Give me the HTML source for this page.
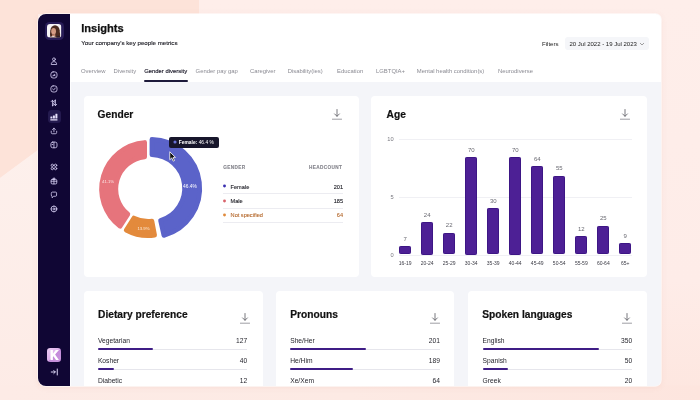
<!DOCTYPE html>
<html>
<head>
<meta charset="utf-8">
<title>Insights</title>
<style>
*{margin:0;padding:0;box-sizing:border-box;}
html,body{width:700px;height:400px;overflow:hidden;}
body{font-family:"Liberation Sans",sans-serif;background:#fce6df;position:relative;color:#15131f;}
.abs{position:absolute;}
#bg{position:absolute;left:0;top:0;width:700px;height:400px;}
#win{position:absolute;left:38.0px;top:13.6px;width:622.8px;height:372.0px;border-radius:8px 5.5px 6px 8px;background:#f4f5f9;overflow:hidden;box-shadow:0 0 0 0.7px rgba(255,255,255,0.75),0 1px 6px rgba(190,110,90,0.10);}
.t{position:absolute;white-space:nowrap;line-height:1;}
.h2{position:absolute;font-weight:bold;-webkit-text-stroke:0.2px #111;font-size:10.2px;line-height:1;white-space:nowrap;color:#111;}
</style>
</head>
<body>
<svg id="bg" viewBox="0 0 700 400">
  <defs>
    <linearGradient id="g1" x1="0" y1="0" x2="0" y2="1">
      <stop offset="0" stop-color="#feeeea"/><stop offset="0.7" stop-color="#feece8"/><stop offset="1" stop-color="#fde6df"/>
    </linearGradient>
    <linearGradient id="g2" x1="0" y1="0" x2="0" y2="1">
      <stop offset="0" stop-color="#fdf0ec"/><stop offset="1" stop-color="#fdebe6"/>
    </linearGradient>
    <linearGradient id="g3" x1="0" y1="0" x2="1" y2="0">
      <stop offset="0" stop-color="#fdebe6"/><stop offset="0.5" stop-color="#fdeae4"/><stop offset="1" stop-color="#fde5de"/>
    </linearGradient>
  </defs>
  <rect width="700" height="400" fill="url(#g1)"/>
  <polygon points="0,0 199,0 199,14 38,14 38,150 0,178" fill="#fde3d9"/>
  <polygon points="0,178 38,150 38,400 0,400" fill="url(#g2)"/>
  <rect x="0" y="385.5" width="700" height="14.5" fill="url(#g3)"/>
</svg>
<div id="win">
<div id="pg" class="abs" style="left:-38.0px;top:-13.6px;width:700px;height:400px;will-change:transform;">
  <div class="abs" style="left:38.00px;top:13.60px;width:32.00px;height:372.00px;background:#100634;"></div>
  <div class="abs" style="left:70.00px;top:13.60px;width:591.00px;height:68.20px;background:#fff;"></div>
  <div class="abs" style="left:70.00px;top:81.80px;width:1.40px;height:305.00px;background:#fdfdfe;"></div>
  <div class="abs" style="left:44.80px;top:22.00px;width:19.20px;height:18.40px;background:#281c57;border-radius:4.5px;"></div>
  <svg class="abs" style="left:47.2px;top:24.4px;" width="14.4" height="13.6" viewBox="0 0 144 136">
<defs><clipPath id="avc"><rect width="144" height="136" rx="32"/></clipPath></defs>
<g clip-path="url(#avc)">
<rect width="144" height="136" fill="#f7f4f6"/>
<ellipse cx="80" cy="64" rx="46" ry="52" fill="#4a2a20"/>
<path d="M36 62 Q22 118 40 140 L132 140 Q134 96 122 56 Z" fill="#4a2a20"/>
<ellipse cx="66" cy="72" rx="24" ry="32" fill="#d39a82"/>
<ellipse cx="60" cy="84" rx="9" ry="6" fill="#dc9f8c"/>
<path d="M52 100 Q66 112 82 98 L84 122 L50 122 Z" fill="#c98c74"/>
<path d="M28 136 Q60 104 98 136 Z" fill="#f1e7e4"/>
<path d="M94 136 Q112 92 134 136 Z" fill="#2a1b2e"/>
</g></svg>
  <div class="abs" style="left:47.50px;top:109.90px;width:13.30px;height:13.50px;background:#241a4f;border-radius:3.5px;"></div>
  <svg class="abs" style="left:50.05px;top:57.05px;" width="7.9" height="7.9" viewBox="0 0 18 18" fill="none" stroke="#d4ccf1" stroke-width="1.9" stroke-linecap="round" stroke-linejoin="round"><circle cx="9" cy="5.2" r="3.2"/><path d="M2.8 16.2 C2.8 12.2 5.5 10.6 9 10.6 C12.5 10.6 15.2 12.2 15.2 16.2 Z"/></svg>
  <svg class="abs" style="left:50.05px;top:71.15px;" width="7.9" height="7.9" viewBox="0 0 18 18" fill="none" stroke="#d4ccf1" stroke-width="1.9" stroke-linecap="round" stroke-linejoin="round"><rect x="2" y="2" width="14" height="14" rx="5"/><path d="M5.5 11.5 A4 4 0 0 1 12.5 11.5"/><path d="M9 11 L11 7.5"/></svg>
  <svg class="abs" style="left:50.05px;top:84.95px;" width="7.9" height="7.9" viewBox="0 0 18 18" fill="none" stroke="#d4ccf1" stroke-width="1.9" stroke-linecap="round" stroke-linejoin="round"><rect x="2" y="2" width="14" height="14" rx="5"/><path d="M6 9.2 L8.3 11.4 L12.2 6.8"/></svg>
  <svg class="abs" style="left:50.05px;top:98.95px;" width="7.9" height="7.9" viewBox="0 0 18 18" fill="none" stroke="#d4ccf1" stroke-width="1.9" stroke-linecap="round" stroke-linejoin="round"><path d="M5.6 15.5 V3 M2.6 6 L5.6 2.8 L8.2 6"/><path d="M5.6 15.5 Q8.4 15.5 8.4 12.8 V10"/><path d="M12.4 2.5 V15 M9.8 12 L12.4 15.2 L15.4 12"/><path d="M12.4 2.5 Q9.6 2.5 9.6 5.2 V8"/></svg>
  <svg class="abs" style="left:50.4px;top:112.6px;" width="8" height="8" viewBox="0 0 80 80"><rect x="4" y="36" width="20" height="20" rx="3" fill="#e6e0fa"/><rect x="29" y="24" width="20" height="32" rx="3" fill="#e6e0fa"/><rect x="54" y="8" width="20" height="48" rx="3" fill="#e6e0fa"/><rect x="2" y="63" width="74" height="11" rx="4" fill="#e6e0fa"/></svg>
  <svg class="abs" style="left:50.05px;top:126.95px;" width="7.9" height="7.9" viewBox="0 0 18 18" fill="none" stroke="#d4ccf1" stroke-width="1.9" stroke-linecap="round" stroke-linejoin="round"><path d="M9 11 V2.8 M5.8 5.8 L9 2.6 L12.2 5.8"/><path d="M2.8 9.5 V12.5 Q2.8 15.4 5.8 15.4 H12.2 Q15.2 15.4 15.2 12.5 V9.5"/></svg>
  <svg class="abs" style="left:50.05px;top:141.05px;" width="7.9" height="7.9" viewBox="0 0 18 18" fill="none" stroke="#d4ccf1" stroke-width="1.9" stroke-linecap="round" stroke-linejoin="round"><rect x="2" y="2.5" width="14" height="13" rx="4"/><path d="M9 2.5 V15.5"/><path d="M4.8 8 H6.5"/></svg>
  <svg class="abs" style="left:50.05px;top:163.35px;" width="7.9" height="7.9" viewBox="0 0 18 18" fill="none" stroke="#d4ccf1" stroke-width="1.9" stroke-linecap="round" stroke-linejoin="round"><circle cx="5.3" cy="5.3" r="2.7"/><circle cx="12.7" cy="5.3" r="2.7"/><circle cx="5.3" cy="12.7" r="2.7"/><circle cx="12.7" cy="12.7" r="2.7"/></svg>
  <svg class="abs" style="left:50.05px;top:177.45px;" width="7.9" height="7.9" viewBox="0 0 18 18" fill="none" stroke="#d4ccf1" stroke-width="1.9" stroke-linecap="round" stroke-linejoin="round"><rect x="2.6" y="5.6" width="12.8" height="10.2" rx="2.2"/><path d="M2.6 9.6 H15.4 M9 5.6 V15.8"/><path d="M9 5.4 C7 5.4 5.6 2.4 7.4 2.4 C8.6 2.4 9 4 9 5.4 C9 4 9.4 2.4 10.6 2.4 C12.4 2.4 11 5.4 9 5.4"/></svg>
  <svg class="abs" style="left:50.05px;top:191.15px;" width="7.9" height="7.9" viewBox="0 0 18 18" fill="none" stroke="#d4ccf1" stroke-width="1.9" stroke-linecap="round" stroke-linejoin="round"><path d="M3 4.8 Q3 2.5 5.3 2.5 H12.7 Q15 2.5 15 4.8 V9.7 Q15 12 12.7 12 H8.4 L4.8 15.5 V12 Q3 12 3 9.7 Z"/></svg>
  <svg class="abs" style="left:50.05px;top:205.15px;" width="7.9" height="7.9" viewBox="0 0 18 18" fill="none" stroke="#d4ccf1" stroke-width="1.9" stroke-linecap="round" stroke-linejoin="round"><circle cx="9" cy="9" r="6.6"/><circle cx="9" cy="9" r="2.3"/><path d="M9 2.4 V3.6 M9 14.4 V15.6 M2.4 9 H3.6 M14.4 9 H15.6"/></svg>
  <div class="abs" style="left:47.4px;top:348px;width:13.6px;height:13.6px;border-radius:3.2px;background:linear-gradient(135deg,#eccdf3 0%,#dcaeea 52%,#c48cda 53%,#c995de 100%);"></div>
<svg class="abs" style="left:47.4px;top:348px" width="13.6" height="13.6" viewBox="0 0 136 136"><path d="M35 20 H59 V58 L88 20 H117 L81 64 L119 121 H90 L65 82 L59 89 V121 H35 Z" fill="#fff"/></svg>
<svg class="abs" style="left:50px;top:368.4px;" width="9" height="8" viewBox="0 0 18 16" fill="none" stroke="#dcd5f5" stroke-width="2" stroke-linecap="round" stroke-linejoin="round"><path d="M2.5 8 H10.5 M7.6 5 L10.6 8 L7.6 11"/><path d="M14.5 2 V14"/></svg>
  <div class="t" id="title" style="left:81.20px;top:23px;font-size:11.1px;color:#111;font-weight:bold;-webkit-text-stroke:0.25px #111;">Insights</div>
  <div class="t" id="sub" style="left:81.30px;top:40px;font-size:6.15px;color:#17171f;-webkit-text-stroke:0.12px #17171f;">Your company's key people metrics</div>
  <div class="t" style="left:81.00px;top:69px;font-size:5.9px;color:#8a8a92;">Overview</div>
  <div class="t" style="left:113.60px;top:69px;font-size:5.9px;color:#8a8a92;">Diversity</div>
  <div class="t" style="left:144.20px;top:69px;font-size:5.9px;color:#1d1b2b;-webkit-text-stroke:0.15px #1d1b2b;">Gender diversity</div>
  <div class="t" style="left:195.60px;top:69px;font-size:5.9px;color:#8a8a92;">Gender pay gap</div>
  <div class="t" style="left:250.00px;top:69px;font-size:5.9px;color:#8a8a92;">Caregiver</div>
  <div class="t" style="left:287.70px;top:69px;font-size:5.9px;color:#8a8a92;">Disability(ies)</div>
  <div class="t" style="left:337.00px;top:69px;font-size:5.9px;color:#8a8a92;">Education</div>
  <div class="t" style="left:376.00px;top:69px;font-size:5.9px;color:#8a8a92;">LGBTQIA+</div>
  <div class="t" style="left:416.80px;top:69px;font-size:5.9px;color:#8a8a92;">Mental health condition(s)</div>
  <div class="t" style="left:498.00px;top:69px;font-size:5.9px;color:#8a8a92;">Neurodiverse</div>
  <div class="abs" style="left:144.20px;top:80.20px;width:43.50px;height:1.50px;background:#1d1a3a;border-radius:1px;"></div>
  <div class="t" style="left:542.00px;top:41px;font-size:6.1px;color:#222;">Filters</div>
  <div class="abs" style="left:565.00px;top:36.90px;width:84.20px;height:13.60px;background:#f5f6f9;border-radius:3px;"></div>
  <div class="t" id="date" style="left:569.50px;top:41px;font-size:6.0px;color:#222;">20 Jul 2022 - 19 Jul 2023</div>
  <svg class="abs" style="left:639.4px;top:41.6px;" width="6" height="4" viewBox="0 0 6 4"><path d="M1 1 L3 3 L5 1" fill="none" stroke="#777" stroke-width="0.7"/></svg>
  <div class="abs" style="left:83.50px;top:95.50px;width:275.00px;height:181.00px;background:#fff;border-radius:4px;"></div>
  <div class="h2" style="left:97.6px;top:110.0px;">Gender</div>
  <svg class="abs" style="left:331.50px;top:108.80px;" width="10" height="11" viewBox="0 0 10 11" fill="none" stroke="#55555d" stroke-width="0.8" stroke-linecap="round" stroke-linejoin="round"><path d="M5 0.5 V7.2 M2.6 4.9 L5 7.3 L7.4 4.9"/><path d="M0.4 10.2 H9.6" stroke="#85858d"/></svg>
  <svg class="abs" id="donut" style="left:0;top:0;" width="700" height="400" viewBox="0 0 700 400"><path d="M120.15 226.33 A46.70 46.70 0 0 1 144.70 142.43 L144.70 156.89 A32.30 32.30 0 0 0 127.92 214.14 Z" fill="#e6747c" stroke="#e6747c" stroke-width="4.6" stroke-linejoin="round"/><path d="M154.68 235.25 A46.70 46.70 0 0 1 126.13 230.16 L133.90 217.96 A32.30 32.30 0 0 0 151.98 221.08 Z" fill="#e38a3c" stroke="#e38a3c" stroke-width="4.6" stroke-linejoin="round"/><path d="M151.90 139.41 A48.90 48.90 0 0 1 163.88 235.45 L160.51 220.50 A33.60 33.60 0 0 0 151.90 154.71 Z" fill="#5b63c9" stroke="#5b63c9" stroke-width="4.6" stroke-linejoin="round"/></svg>
  <div class="t" style="left:183.00px;top:185px;font-size:4.9px;color:#fff;">46.4%</div>
  <div class="t" style="left:102.00px;top:180px;font-size:4.3px;color:#fbe4e4;">41.1%</div>
  <div class="t" style="left:137.40px;top:227px;font-size:4.3px;color:#fdebd8;">13.9%</div>
  <div class="abs" style="left:169.30px;top:136.90px;width:50.00px;height:10.90px;background:#17162b;border-radius:2px;"></div>
  <svg class="abs" style="left:171.9px;top:139.2px;" width="6" height="6" viewBox="0 0 6 6"><circle cx="3" cy="3" r="1.55" fill="#6a72d6"/></svg>
  <div class="t" id="tip" style="left:178.80px;top:141px;font-size:4.9px;color:#fff;"><b>Female:</b> 46.4 %</div>
  <svg class="abs" style="left:168.6px;top:151px;" width="7" height="11" viewBox="0 0 14 22"><path d="M1.5 1.5 V17.5 L5.5 13.8 L8.4 20.3 L11 19.2 L8.2 12.8 H13 Z" fill="#111" stroke="#fff" stroke-width="1.6" stroke-linejoin="round"/></svg>
  <div class="t" style="left:223.30px;top:166px;font-size:4.7px;color:#85858d;font-weight:bold;letter-spacing:0.35px;-webkit-text-stroke:0.12px #85858d;">GENDER</div>
  <div class="t" id="hc" style="left:309.00px;top:166px;font-size:4.7px;color:#85858d;font-weight:bold;letter-spacing:0.35px;-webkit-text-stroke:0.12px #85858d;">HEADCOUNT</div>
  <svg class="abs" style="left:221px;top:183.30px;" width="6" height="6" viewBox="0 0 6 6"><circle cx="3.5" cy="3" r="1.45" fill="#3a2fb0"/></svg>
  <div class="t" style="left:230.60px;top:185px;font-size:5.6px;color:#1a1a22;-webkit-text-stroke:0.1px #1a1a22;">Female</div>
  <div class="t" style="right:357.00px;top:185px;font-size:5.6px;color:#1a1a22;-webkit-text-stroke:0.1px #1a1a22;">201</div>
  <div class="abs" style="left:223.00px;top:193.30px;width:120.00px;height:0.80px;background:#ececf1;"></div>
  <svg class="abs" style="left:221px;top:197.90px;" width="6" height="6" viewBox="0 0 6 6"><circle cx="3.5" cy="3" r="1.45" fill="#d9646c"/></svg>
  <div class="t" style="left:230.60px;top:199px;font-size:5.6px;color:#1a1a22;-webkit-text-stroke:0.1px #1a1a22;">Male</div>
  <div class="t" style="right:357.00px;top:199px;font-size:5.6px;color:#1a1a22;-webkit-text-stroke:0.1px #1a1a22;">185</div>
  <div class="abs" style="left:223.00px;top:207.90px;width:120.00px;height:0.80px;background:#ececf1;"></div>
  <svg class="abs" style="left:221px;top:212.20px;" width="6" height="6" viewBox="0 0 6 6"><circle cx="3.5" cy="3" r="1.45" fill="#e08a3c"/></svg>
  <div class="t" style="left:230.60px;top:213px;font-size:5.6px;color:#b4672a;-webkit-text-stroke:0.1px #b4672a;">Not specified</div>
  <div class="t" style="right:357.00px;top:213px;font-size:5.6px;color:#b4672a;-webkit-text-stroke:0.1px #b4672a;">64</div>
  <div class="abs" style="left:223.00px;top:222.20px;width:120.00px;height:0.80px;background:#ececf1;"></div>
  <div class="abs" style="left:371.30px;top:95.50px;width:275.40px;height:181.00px;background:#fff;border-radius:4px;"></div>
  <div class="h2" style="left:386.6px;top:110.0px;">Age</div>
  <svg class="abs" style="left:620.20px;top:108.80px;" width="10" height="11" viewBox="0 0 10 11" fill="none" stroke="#55555d" stroke-width="0.8" stroke-linecap="round" stroke-linejoin="round"><path d="M5 0.5 V7.2 M2.6 4.9 L5 7.3 L7.4 4.9"/><path d="M0.4 10.2 H9.6" stroke="#85858d"/></svg>
  <div class="abs" style="left:399.00px;top:139.20px;width:232.50px;height:0.70px;background:#f0f0f4;"></div>
  <div class="t" style="right:306.40px;top:137px;font-size:5.7px;color:#77777f;">10</div>
  <div class="abs" style="left:399.00px;top:196.90px;width:232.50px;height:0.70px;background:#f0f0f4;"></div>
  <div class="t" style="right:306.40px;top:195px;font-size:5.7px;color:#77777f;">5</div>
  <div class="abs" style="left:399.00px;top:254.50px;width:232.50px;height:0.70px;background:#f0f0f4;"></div>
  <div class="t" style="right:306.40px;top:253px;font-size:5.7px;color:#77777f;">0</div>
  <div class="abs" style="left:399.30px;top:245.90px;width:11.80px;height:8.60px;background:#4d2095;border-radius:1.3px;border:0.9px solid #3d1685;"></div>
  <div class="t" style="left:389.30px;top:236px;font-size:6.0px;color:#6a6a72;width:31.8px;text-align:center;">7</div>
  <div class="t" style="left:389.30px;top:261px;font-size:5.0px;color:#3a3a44;width:31.8px;text-align:center;">16-19</div>
  <div class="abs" style="left:421.31px;top:222.00px;width:11.80px;height:32.50px;background:#4d2095;border-radius:1.3px;border:0.9px solid #3d1685;"></div>
  <div class="t" style="left:411.31px;top:212px;font-size:6.0px;color:#6a6a72;width:31.8px;text-align:center;">24</div>
  <div class="t" style="left:411.31px;top:261px;font-size:5.0px;color:#3a3a44;width:31.8px;text-align:center;">20-24</div>
  <div class="abs" style="left:443.32px;top:232.60px;width:11.80px;height:21.90px;background:#4d2095;border-radius:1.3px;border:0.9px solid #3d1685;"></div>
  <div class="t" style="left:433.32px;top:222px;font-size:6.0px;color:#6a6a72;width:31.8px;text-align:center;">22</div>
  <div class="t" style="left:433.32px;top:261px;font-size:5.0px;color:#3a3a44;width:31.8px;text-align:center;">25-29</div>
  <div class="abs" style="left:465.33px;top:157.00px;width:11.80px;height:97.50px;background:#4d2095;border-radius:1.3px;border:0.9px solid #3d1685;"></div>
  <div class="t" style="left:455.33px;top:147px;font-size:6.0px;color:#6a6a72;width:31.8px;text-align:center;">70</div>
  <div class="t" style="left:455.33px;top:261px;font-size:5.0px;color:#3a3a44;width:31.8px;text-align:center;">30-34</div>
  <div class="abs" style="left:487.34px;top:207.70px;width:11.80px;height:46.80px;background:#4d2095;border-radius:1.3px;border:0.9px solid #3d1685;"></div>
  <div class="t" style="left:477.34px;top:198px;font-size:6.0px;color:#6a6a72;width:31.8px;text-align:center;">30</div>
  <div class="t" style="left:477.34px;top:261px;font-size:5.0px;color:#3a3a44;width:31.8px;text-align:center;">35-39</div>
  <div class="abs" style="left:509.35px;top:157.00px;width:11.80px;height:97.50px;background:#4d2095;border-radius:1.3px;border:0.9px solid #3d1685;"></div>
  <div class="t" style="left:499.35px;top:147px;font-size:6.0px;color:#6a6a72;width:31.8px;text-align:center;">70</div>
  <div class="t" style="left:499.35px;top:261px;font-size:5.0px;color:#3a3a44;width:31.8px;text-align:center;">40-44</div>
  <div class="abs" style="left:531.36px;top:166.40px;width:11.80px;height:88.10px;background:#4d2095;border-radius:1.3px;border:0.9px solid #3d1685;"></div>
  <div class="t" style="left:521.36px;top:156px;font-size:6.0px;color:#6a6a72;width:31.8px;text-align:center;">64</div>
  <div class="t" style="left:521.36px;top:261px;font-size:5.0px;color:#3a3a44;width:31.8px;text-align:center;">45-49</div>
  <div class="abs" style="left:553.37px;top:175.90px;width:11.80px;height:78.60px;background:#4d2095;border-radius:1.3px;border:0.9px solid #3d1685;"></div>
  <div class="t" style="left:543.37px;top:165px;font-size:6.0px;color:#6a6a72;width:31.8px;text-align:center;">55</div>
  <div class="t" style="left:543.37px;top:261px;font-size:5.0px;color:#3a3a44;width:31.8px;text-align:center;">50-54</div>
  <div class="abs" style="left:575.38px;top:236.40px;width:11.80px;height:18.10px;background:#4d2095;border-radius:1.3px;border:0.9px solid #3d1685;"></div>
  <div class="t" style="left:565.38px;top:226px;font-size:6.0px;color:#6a6a72;width:31.8px;text-align:center;">12</div>
  <div class="t" style="left:565.38px;top:261px;font-size:5.0px;color:#3a3a44;width:31.8px;text-align:center;">55-59</div>
  <div class="abs" style="left:597.39px;top:225.60px;width:11.80px;height:28.90px;background:#4d2095;border-radius:1.3px;border:0.9px solid #3d1685;"></div>
  <div class="t" style="left:587.39px;top:215px;font-size:6.0px;color:#6a6a72;width:31.8px;text-align:center;">25</div>
  <div class="t" style="left:587.39px;top:261px;font-size:5.0px;color:#3a3a44;width:31.8px;text-align:center;">60-64</div>
  <div class="abs" style="left:619.40px;top:243.40px;width:11.80px;height:11.10px;background:#4d2095;border-radius:1.3px;border:0.9px solid #3d1685;"></div>
  <div class="t" style="left:609.40px;top:233px;font-size:6.0px;color:#6a6a72;width:31.8px;text-align:center;">9</div>
  <div class="t" style="left:609.40px;top:261px;font-size:5.0px;color:#3a3a44;width:31.8px;text-align:center;">65+</div>
  <div class="abs" style="left:83.50px;top:290.60px;width:179.20px;height:110.00px;background:#fff;border-radius:4px;"></div>
  <div class="h2" style="left:98.1px;top:310.0px;">Dietary preference</div>
  <svg class="abs" style="left:240.00px;top:312.70px;" width="10" height="11" viewBox="0 0 10 11" fill="none" stroke="#55555d" stroke-width="0.8" stroke-linecap="round" stroke-linejoin="round"><path d="M5 0.5 V7.2 M2.6 4.9 L5 7.3 L7.4 4.9"/><path d="M0.4 10.2 H9.6" stroke="#85858d"/></svg>
  <div class="t" style="left:97.90px;top:338px;font-size:6.7px;color:#1f1f27;">Vegetarian</div>
  <div class="t" style="right:452.90px;top:338px;font-size:6.7px;color:#1f1f27;">127</div>
  <div class="abs" style="left:98.00px;top:348.70px;width:148.90px;height:1.00px;background:#e6e6ec;"></div>
  <div class="abs" style="left:98.00px;top:348.30px;width:55.09px;height:1.80px;background:#3f1d86;border-radius:1px;"></div>
  <div class="t" style="left:97.90px;top:358px;font-size:6.7px;color:#1f1f27;">Kosher</div>
  <div class="t" style="right:452.90px;top:358px;font-size:6.7px;color:#1f1f27;">40</div>
  <div class="abs" style="left:98.00px;top:368.60px;width:148.90px;height:1.00px;background:#e6e6ec;"></div>
  <div class="abs" style="left:98.00px;top:368.20px;width:15.63px;height:1.80px;background:#3f1d86;border-radius:1px;"></div>
  <div class="t" style="left:97.90px;top:378px;font-size:6.7px;color:#1f1f27;">Diabetic</div>
  <div class="t" style="right:452.90px;top:378px;font-size:6.7px;color:#1f1f27;">12</div>
  <div class="abs" style="left:98.00px;top:388.50px;width:148.90px;height:1.00px;background:#e6e6ec;"></div>
  <div class="abs" style="left:275.70px;top:290.60px;width:178.70px;height:110.00px;background:#fff;border-radius:4px;"></div>
  <div class="h2" style="left:290.3px;top:310.0px;">Pronouns</div>
  <svg class="abs" style="left:429.60px;top:312.70px;" width="10" height="11" viewBox="0 0 10 11" fill="none" stroke="#55555d" stroke-width="0.8" stroke-linecap="round" stroke-linejoin="round"><path d="M5 0.5 V7.2 M2.6 4.9 L5 7.3 L7.4 4.9"/><path d="M0.4 10.2 H9.6" stroke="#85858d"/></svg>
  <div class="t" style="left:290.20px;top:338px;font-size:6.7px;color:#1f1f27;">She/Her</div>
  <div class="t" style="right:260.05px;top:338px;font-size:6.7px;color:#1f1f27;">201</div>
  <div class="abs" style="left:290.30px;top:348.70px;width:149.45px;height:1.00px;background:#e6e6ec;"></div>
  <div class="abs" style="left:290.30px;top:348.30px;width:75.47px;height:1.80px;background:#3f1d86;border-radius:1px;"></div>
  <div class="t" style="left:290.20px;top:358px;font-size:6.7px;color:#1f1f27;">He/Him</div>
  <div class="t" style="right:260.05px;top:358px;font-size:6.7px;color:#1f1f27;">189</div>
  <div class="abs" style="left:290.30px;top:368.60px;width:149.45px;height:1.00px;background:#e6e6ec;"></div>
  <div class="abs" style="left:290.30px;top:368.20px;width:62.77px;height:1.80px;background:#3f1d86;border-radius:1px;"></div>
  <div class="t" style="left:290.20px;top:378px;font-size:6.7px;color:#1f1f27;">Xe/Xem</div>
  <div class="t" style="right:260.05px;top:378px;font-size:6.7px;color:#1f1f27;">64</div>
  <div class="abs" style="left:290.30px;top:388.50px;width:149.45px;height:1.00px;background:#e6e6ec;"></div>
  <div class="abs" style="left:467.70px;top:290.60px;width:179.20px;height:110.00px;background:#fff;border-radius:4px;"></div>
  <div class="h2" style="left:482.3px;top:310.0px;">Spoken languages</div>
  <svg class="abs" style="left:622.30px;top:312.70px;" width="10" height="11" viewBox="0 0 10 11" fill="none" stroke="#55555d" stroke-width="0.8" stroke-linecap="round" stroke-linejoin="round"><path d="M5 0.5 V7.2 M2.6 4.9 L5 7.3 L7.4 4.9"/><path d="M0.4 10.2 H9.6" stroke="#85858d"/></svg>
  <div class="t" style="left:482.60px;top:338px;font-size:6.7px;color:#1f1f27;">English</div>
  <div class="t" style="right:67.90px;top:338px;font-size:6.7px;color:#1f1f27;">350</div>
  <div class="abs" style="left:482.70px;top:348.70px;width:149.20px;height:1.00px;background:#e6e6ec;"></div>
  <div class="abs" style="left:482.70px;top:348.30px;width:116.08px;height:1.80px;background:#3f1d86;border-radius:1px;"></div>
  <div class="t" style="left:482.60px;top:358px;font-size:6.7px;color:#1f1f27;">Spanish</div>
  <div class="t" style="right:67.90px;top:358px;font-size:6.7px;color:#1f1f27;">50</div>
  <div class="abs" style="left:482.70px;top:368.60px;width:149.20px;height:1.00px;background:#e6e6ec;"></div>
  <div class="abs" style="left:482.70px;top:368.20px;width:25.51px;height:1.80px;background:#3f1d86;border-radius:1px;"></div>
  <div class="t" style="left:482.60px;top:378px;font-size:6.7px;color:#1f1f27;">Greek</div>
  <div class="t" style="right:67.90px;top:378px;font-size:6.7px;color:#1f1f27;">20</div>
  <div class="abs" style="left:482.70px;top:388.50px;width:149.20px;height:1.00px;background:#e6e6ec;"></div>
</div>
</div>
</body>
</html>
